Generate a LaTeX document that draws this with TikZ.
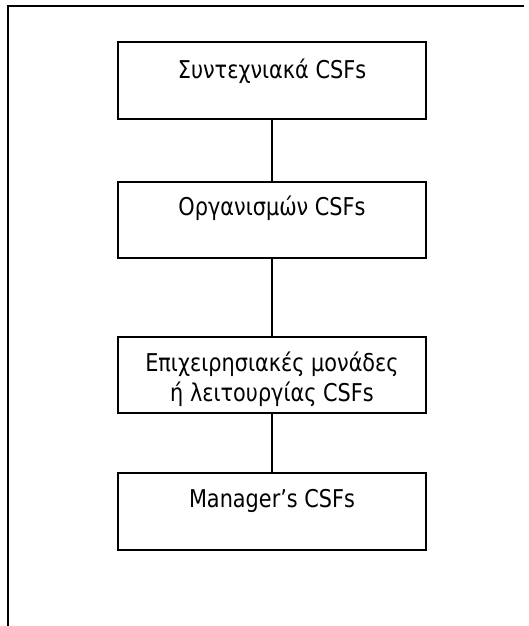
\documentclass[tikz,border=0pt]{standalone}
\usepackage{fontspec}
\setmainfont[FakeStretch=0.85]{DejaVu Sans}
\begin{document}
\begin{tikzpicture}[x=1pt,y=-1pt,
  csfbox/.style={draw=black,line width=2pt,fill=white},
  csflabel/.style={anchor=base,align=center,inner sep=0pt,font=\fontsize{24.5}{30}\selectfont},
  link/.style={draw=black,line width=2pt}]
  \useasboundingbox (0,0) rectangle (529,626);
  % open frame: top rule and left rule
  \coordinate (ftl) at (8,6);
  \coordinate (ftr) at (524,6);
  \coordinate (fbl) at (8,626);
  \draw[line width=1.6pt] (ftr) -- (ftl) -- (fbl);
  % boxes
  \path[csfbox] (118,42) rectangle (426,119);
  \node[csflabel] (t1) at (272,78) {Συντεχνιακά CSFs};
  \path[csfbox] (118,182) rectangle (426,258);
  \node[csflabel] (t2) at (272,215) {Οργανισμών CSFs};
  \path[csfbox] (118,337) rectangle (426,413);
  \node[csflabel,anchor=north] (t3) at (272,352) {Επιχειρησιακές μονάδες\\ή λειτουργίας CSFs};
  \path[csfbox] (118,473) rectangle (426,550);
  \node[csflabel] (t4) at (272,507) {Manager’s CSFs};
  % box edges used by the connectors
  \coordinate (b1s) at (272,119);
  \coordinate (b2n) at (272,182);
  \coordinate (b2s) at (272,258);
  \coordinate (b3n) at (272,337);
  \coordinate (b3s) at (272,413);
  \coordinate (b4n) at (272,473);
  \draw[link] (b1s) -- (b2n);
  \draw[link] (b2s) -- (b3n);
  \draw[link] (b3s) -- (b4n);
\end{tikzpicture}
\end{document}
